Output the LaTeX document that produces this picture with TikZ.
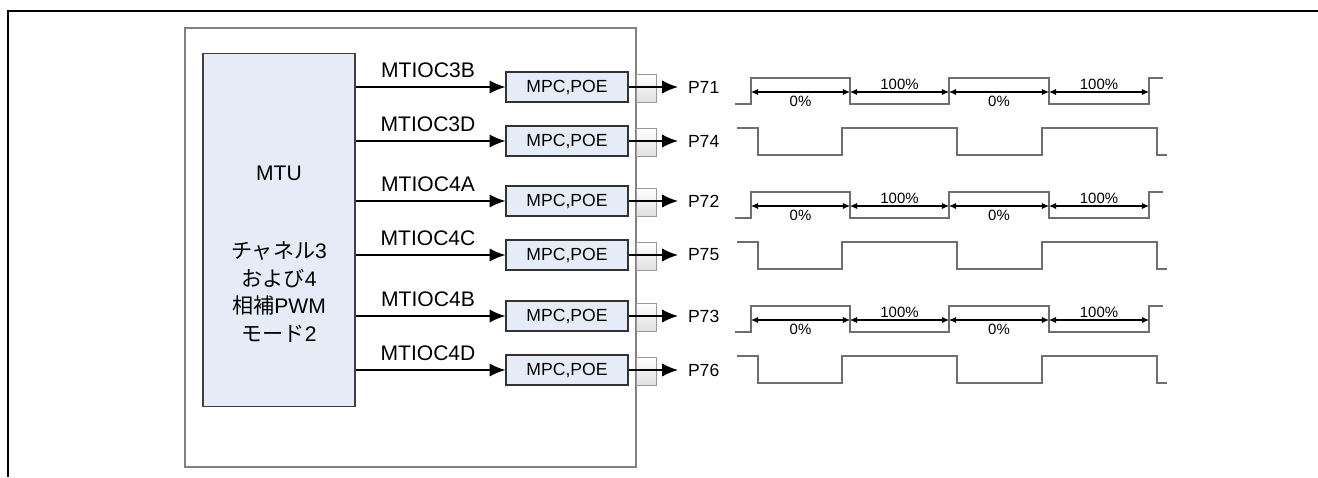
\documentclass[tikz,border=0pt]{standalone}
\usepackage{fontspec}
\setmainfont{Liberation Sans}
\newfontfamily\jpfont{Noto Sans CJK JP}
\usepackage{tikz}
\usetikzlibrary{shapes,positioning,calc}
\usetikzlibrary{arrows.meta}
\definecolor{blokfill}{HTML}{E6ECF7}
\definecolor{wavegray}{HTML}{6E6E6E}
\tikzstyle{mtublok} = [rectangle, draw=black!75, fill=blokfill, line width=0.6pt,
minimum width=3.04cm, minimum height=7.08cm]
\tikzstyle{mpc} = [rectangle, draw=black!80, fill=blokfill, line width=0.6pt,
minimum width=2.44cm, minimum height=0.6cm, font=\fontsize{10}{12}\selectfont]
\tikzstyle{pinsq} = [rectangle, draw=black!40, top color=white, bottom color=black!12, minimum width=0.4cm, minimum height=0.56cm, inner sep=0pt]
\tikzstyle{sig} = [font=\fontsize{12}{14}\selectfont]
\tikzstyle{portlbl} = [anchor=west, inner sep=5.5pt, font=\fontsize{10}{12}\selectfont]
\tikzstyle{pct} = [font=\fontsize{8.5}{10}\selectfont]
\tikzstyle{wire} = [line width=0.9pt,-{Latex[length=9pt,width=7.5pt]}]
\tikzstyle{wave} = [wavegray, line width=0.75pt]
\tikzstyle{dim} = [line width=0.6pt,{Latex[length=4pt,width=3.5pt]}-{Latex[length=4pt,width=3.5pt]}]

\begin{document}
\begin{tikzpicture}[x=0.02cm,y=-0.02cm]
\useasboundingbox (0,0) rectangle (1318,477);
\draw[line width=1.3pt] (1318,11) -- (8,11) -- (8,477);
\draw[black!50, line width=0.6pt] (185,28) rectangle (636,467);
% MTU block
\node (mtu) at (279,230) [mtublok] {};
\node (mtutxt) at (279,173) [sig] {MTU};
\node (chtxt) at (279,292) [sig, align=center, font=\fontsize{12}{15.6}\selectfont] {{\jpfont チャネル}3\\{\jpfont および}4\\{\jpfont 相補}PWM\\{\jpfont モード}2};
% channel 3
\node (m3b) at (567,87) [mpc] {MPC,POE};
\node (l3b) at (428,70) [sig] {MTIOC3B};
\draw[wire] (mtu.east |- m3b) -- (m3b.west);
\node (q71) at (646,88) [pinsq] {};
\node (p71) at (678,87) [portlbl] {P71};
\draw[wire] (m3b.east) -- (p71.west);
\node (m3d) at (567,141) [mpc] {MPC,POE};
\node (l3d) at (428,124) [sig] {MTIOC3D};
\draw[wire] (mtu.east |- m3d) -- (m3d.west);
\node (q74) at (646,142) [pinsq] {};
\node (p74) at (678,141) [portlbl] {P74};
\draw[wire] (m3d.east) -- (p74.west);
% channel 4
\node (m4a) at (567,201) [mpc] {MPC,POE};
\node (l4a) at (428,184) [sig] {MTIOC4A};
\draw[wire] (mtu.east |- m4a) -- (m4a.west);
\node (q72) at (646,202) [pinsq] {};
\node (p72) at (678,201) [portlbl] {P72};
\draw[wire] (m4a.east) -- (p72.west);
\node (m4c) at (567,255) [mpc] {MPC,POE};
\node (l4c) at (428,238) [sig] {MTIOC4C};
\draw[wire] (mtu.east |- m4c) -- (m4c.west);
\node (q75) at (646,256) [pinsq] {};
\node (p75) at (678,255) [portlbl] {P75};
\draw[wire] (m4c.east) -- (p75.west);
\node (m4b) at (567,316) [mpc] {MPC,POE};
\node (l4b) at (428,299) [sig] {MTIOC4B};
\draw[wire] (mtu.east |- m4b) -- (m4b.west);
\node (q73) at (646,317) [pinsq] {};
\node (p73) at (678,316) [portlbl] {P73};
\draw[wire] (m4b.east) -- (p73.west);
\node (m4d) at (567,370) [mpc] {MPC,POE};
\node (l4d) at (428,353) [sig] {MTIOC4D};
\draw[wire] (mtu.east |- m4d) -- (m4d.west);
\node (q76) at (646,371) [pinsq] {};
\node (p76) at (678,370) [portlbl] {P76};
\draw[wire] (m4d.east) -- (p76.west);
% waves P71 / P74
\draw[wave] (735,104) -| (751,78) -| (850,104) -| (949,78) -| (1049,104) -| (1149,78) -- (1163,78);
\draw[dim] (751,92) -- node[pct,below,inner sep=2pt] (a71) {0\%} (850,92);
\draw[dim] (850,92) -- node[pct,above,inner sep=1pt] (b71) {100\%} (949,92);
\draw[dim] (949,92) -- node[pct,below,inner sep=2pt] (c71) {0\%} (1049,92);
\draw[dim] (1049,92) -- node[pct,above,inner sep=1pt] (d71) {100\%} (1149,92);
\draw[wave] (737,128) -| (758,155) -| (842,128) -| (957,155) -| (1042,128) -| (1157,155) -- (1167,155);
% waves P72 / P75
\draw[wave] (735,218) -| (751,192) -| (850,218) -| (949,192) -| (1049,218) -| (1149,192) -- (1163,192);
\draw[dim] (751,206) -- node[pct,below,inner sep=2pt] (a72) {0\%} (850,206);
\draw[dim] (850,206) -- node[pct,above,inner sep=1pt] (b72) {100\%} (949,206);
\draw[dim] (949,206) -- node[pct,below,inner sep=2pt] (c72) {0\%} (1049,206);
\draw[dim] (1049,206) -- node[pct,above,inner sep=1pt] (d72) {100\%} (1149,206);
\draw[wave] (737,242) -| (758,269) -| (842,242) -| (957,269) -| (1042,242) -| (1157,269) -- (1167,269);
% waves P73 / P76
\draw[wave] (735,332) -| (751,306) -| (850,332) -| (949,306) -| (1049,332) -| (1149,306) -- (1163,306);
\draw[dim] (751,320) -- node[pct,below,inner sep=2pt] (a73) {0\%} (850,320);
\draw[dim] (850,320) -- node[pct,above,inner sep=1pt] (b73) {100\%} (949,320);
\draw[dim] (949,320) -- node[pct,below,inner sep=2pt] (c73) {0\%} (1049,320);
\draw[dim] (1049,320) -- node[pct,above,inner sep=1pt] (d73) {100\%} (1149,320);
\draw[wave] (737,356) -| (758,383) -| (842,356) -| (957,383) -| (1042,356) -| (1157,383) -- (1167,383);
\end{tikzpicture}
\end{document}
